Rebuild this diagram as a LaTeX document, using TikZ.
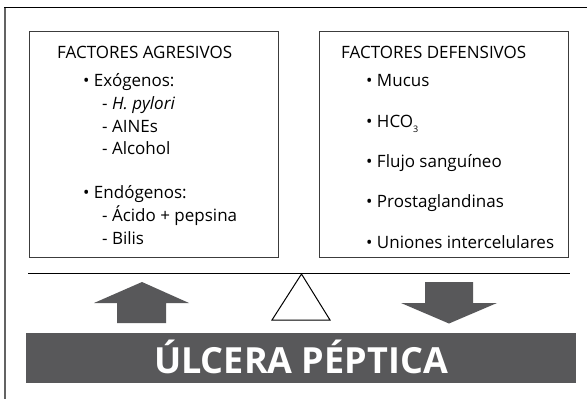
\documentclass[tikz,border=0pt]{standalone}
\usepackage{fontspec}
\setmainfont{Open Sans}
\usetikzlibrary{positioning,calc}
\definecolor{ulcerGray}{RGB}{88,88,90}
\definecolor{frameGray}{RGB}{60,60,60}

\begin{document}
\begin{tikzpicture}[x=1pt, y=-1pt,
  every node/.style={font=\fontsize{17}{20}\selectfont, inner sep=0pt},
  factorbox/.style={draw=frameGray, line width=1pt, minimum width=249pt, minimum height=226pt},
  item/.style={anchor=base west}]
  \useasboundingbox (0,0) rectangle (587,399);
  % Frame
  \draw[frameGray!80, line width=1.6pt] (5,399) -- (5,7.5);
  \draw[black, line width=1.2pt] (4.2,7.5) -- (587,7.5);
  % Boxes
  \node[factorbox] (agr) at (153.5,144) {};
  \node[factorbox] (def) at (444,144) {};
  % Aggressive factors
  \node[item] (agrTitle) at (57,58) {FACTORES AGRESIVOS};
  \node[item] (exo) at (83,86) {\textbullet\ Exógenos:};
  \node[item] (hp) at (102,109.5) {- \textit{H. pylori}};
  \node[item] (aine) at (102,132) {- AINEs};
  \node[item] (alc) at (102,154) {- Alcohol};
  \node[item] (endo) at (83,198.5) {\textbullet\ Endógenos:};
  \node[item] (acid) at (102,221.5) {- Ácido + pepsina};
  \node[item] (bil) at (102,244.5) {- Bilis};
  % Defensive factors
  \node[item] (defTitle) at (341,58) {FACTORES DEFENSIVOS};
  \node[item] (muc) at (366,86) {\textbullet\ Mucus};
  \node[item] (hco) at (366,127) {\textbullet\ HCO\raisebox{-5pt}{\fontsize{9}{9}\selectfont 3}};
  \node[item] (flu) at (366,167.5) {\textbullet\ Flujo sanguíneo};
  \node[item] (pro) at (366,207.5) {\textbullet\ Prostaglandinas};
  \node[item] (uni) at (366,248) {\textbullet\ Uniones intercelulares};
  % Balance
  \coordinate (beamL) at (28,273.5);
  \coordinate (beamR) at (570,273.5);
  \coordinate (pivot) at (301.5,274);
  \draw[line width=1pt] (beamL) -- (beamR);
  \draw[line width=1pt] (pivot) -- ++(28.5,46) -- ++(-58,0) -- cycle;
  % Arrows
  \fill[ulcerGray] (142,282) -- (189,303) -- (166,303) -- (166,323) -- (117,323) -- (117,303) -- (94,303) -- cycle;
  \fill[ulcerGray] (425,282) -- (473,282) -- (473,303) -- (497,303) -- (449,323.5) -- (401,303) -- (425,303) -- cycle;
  % Banner
  \node[fill=ulcerGray, minimum width=550pt, minimum height=50pt] (ulcer) at (301,358) {};
  \node[anchor=base, text=white, font=\fontsize{36}{40}\selectfont\bfseries] (ulcerText) at (301,373) {ÚLCERA PÉPTICA};
\end{tikzpicture}
\end{document}
